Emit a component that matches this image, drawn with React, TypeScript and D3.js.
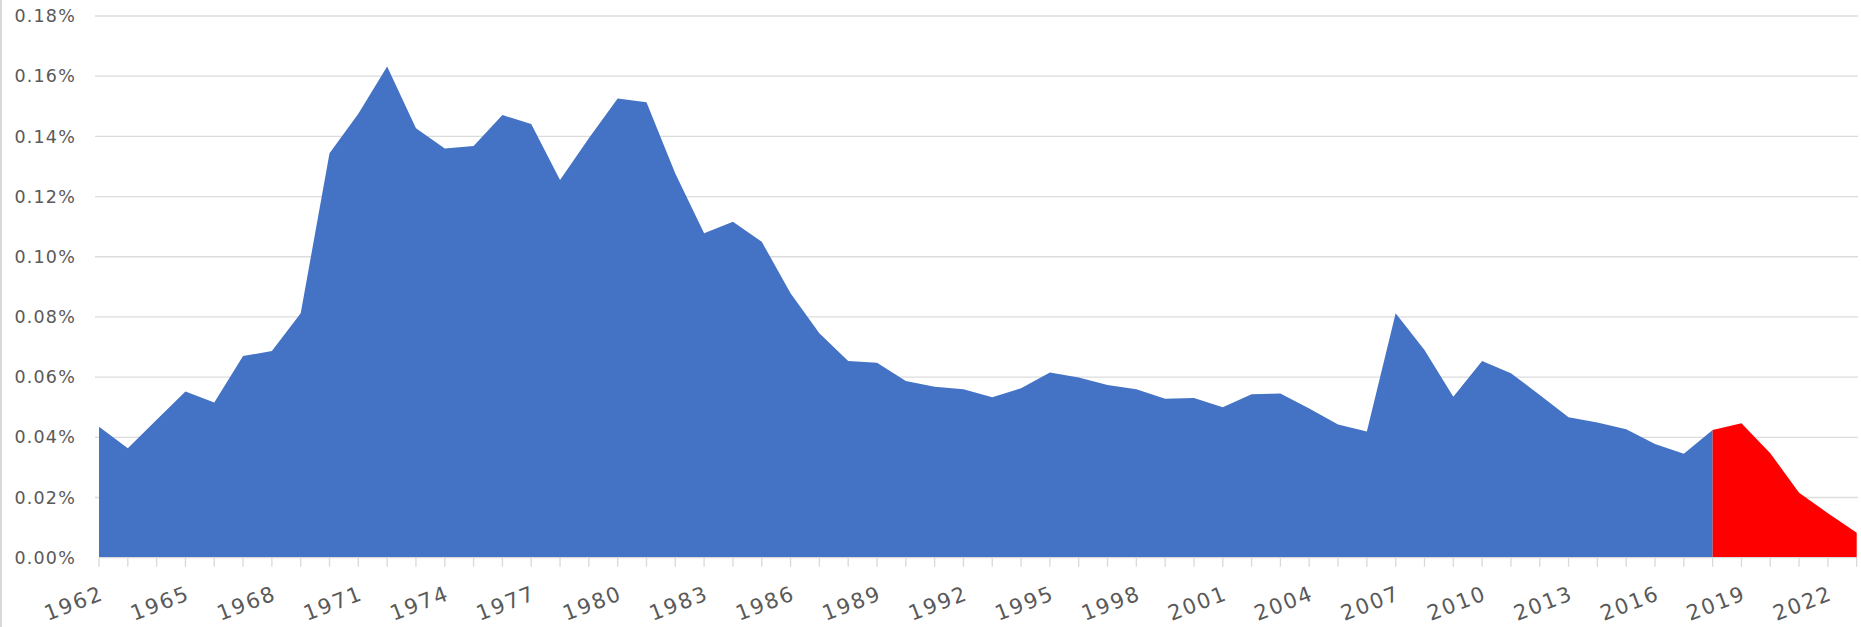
import * as d3 from 'd3';
import { useEffect, useRef } from 'react';

// years on the category axis
const years = d3.range(1962, 2024);

// share of GDP, in percent
const values = [
  0.0435, 0.0364, 0.0458, 0.0552, 0.0516, 0.067, 0.0687, 0.0812, 0.1344, 0.1475,
  0.1632, 0.1427, 0.136, 0.1368, 0.1471, 0.1441, 0.1255, 0.1394, 0.1526, 0.1513,
  0.1277, 0.1078, 0.1116, 0.105, 0.0879, 0.0746, 0.0654, 0.0648, 0.0587, 0.0568,
  0.056, 0.0533, 0.0563, 0.0615, 0.0599, 0.0574, 0.056, 0.0528, 0.0531, 0.05,
  0.0543, 0.0546, 0.0496, 0.0443, 0.0419, 0.0812, 0.069, 0.0535, 0.0654, 0.0613,
  0.0541, 0.0467, 0.0449, 0.0427, 0.0378, 0.0345, 0.0424, 0.0447, 0.0347, 0.0216,
  0.0148, 0.0083,
];

// the red part starts here
const projectionStart = 2018;

const yTicks = [0, 0.02, 0.04, 0.06, 0.08, 0.1, 0.12, 0.14, 0.16, 0.18];
const labelYears = years.filter((y) => (y - 1962) % 3 === 0);

export default function App() {
  const svgRef = useRef<SVGSVGElement>(null);

  useEffect(() => {
    const width = 1861;
    const height = 627;
    const left = 99;
    const right = 1856.7;
    const top = 16;
    const bottom = 557.7;
    const font = '"DejaVu Sans", sans-serif';

    const svg = d3.select(svgRef.current);
    svg.selectAll('*').remove();
    svg.attr('width', width).attr('height', height);

    const data = years.map((year, i) => ({ year, value: values[i] }));
    const actual = data.filter((d) => d.year <= projectionStart);
    const projected = data.filter((d) => d.year >= projectionStart);

    const x = d3.scalePoint<number>().domain(years).range([left, right]);
    const y = d3.scaleLinear().domain([0, 0.18]).range([bottom, top]);

    // thin frame line at the left edge
    svg
      .append('line')
      .attr('x1', 1)
      .attr('x2', 1)
      .attr('y1', 0)
      .attr('y2', height)
      .attr('stroke', '#d9d9d9')
      .attr('stroke-width', 2);

    // gridlines
    svg
      .append('g')
      .selectAll('line')
      .data(yTicks.slice(1))
      .enter()
      .append('line')
      .attr('x1', 95)
      .attr('x2', 1858)
      .attr('y1', (d) => y(d))
      .attr('y2', (d) => y(d))
      .attr('stroke', '#dcdcdc')
      .attr('stroke-width', 1.3);

    // y labels
    svg
      .append('g')
      .selectAll('text')
      .data(yTicks)
      .enter()
      .append('text')
      .attr('x', 76)
      .attr('y', (d) => y(d))
      .attr('dy', '0.35em')
      .attr('text-anchor', 'end')
      .attr('font-family', font)
      .attr('font-size', 17.5)
      .attr('letter-spacing', 1.2)
      .attr('fill', '#595959')
      .text((d) => d3.format('.2f')(d) + '%');

    const area = d3
      .area<{ year: number; value: number }>()
      .x((d) => x(d.year)!)
      .y0(y(0))
      .y1((d) => y(d.value));

    svg.append('path').datum(actual).attr('d', area).attr('fill', '#4472C4');
    svg.append('path').datum(projected).attr('d', area).attr('fill', '#FF0000');

    // x axis line and ticks
    const xAxis = svg.append('g').attr('transform', `translate(0,${bottom})`);
    xAxis
      .append('line')
      .attr('x1', left)
      .attr('x2', right)
      .attr('stroke', '#d9d9d9')
      .attr('stroke-width', 1.3);
    xAxis
      .selectAll('line.tick')
      .data(years)
      .enter()
      .append('line')
      .attr('class', 'tick')
      .attr('x1', (d) => x(d)!)
      .attr('x2', (d) => x(d)!)
      .attr('y1', 0)
      .attr('y2', 9)
      .attr('stroke', '#d9d9d9')
      .attr('stroke-width', 1.3);

    // rotated year labels
    svg
      .append('g')
      .selectAll('text')
      .data(labelYears)
      .enter()
      .append('text')
      .attr('transform', (d) => `translate(${x(d)! + 6},599) rotate(-21)`)
      .attr('text-anchor', 'end')
      .attr('font-family', font)
      .attr('font-size', 21)
      .attr('letter-spacing', 2)
      .attr('fill', '#595959')
      .text((d) => String(d));
  }, []);

  return (
    <div style={{ position: 'absolute', left: 0, top: 0 }}>
      <svg ref={svgRef} style={{ display: 'block' }}></svg>
    </div>
  );
}
